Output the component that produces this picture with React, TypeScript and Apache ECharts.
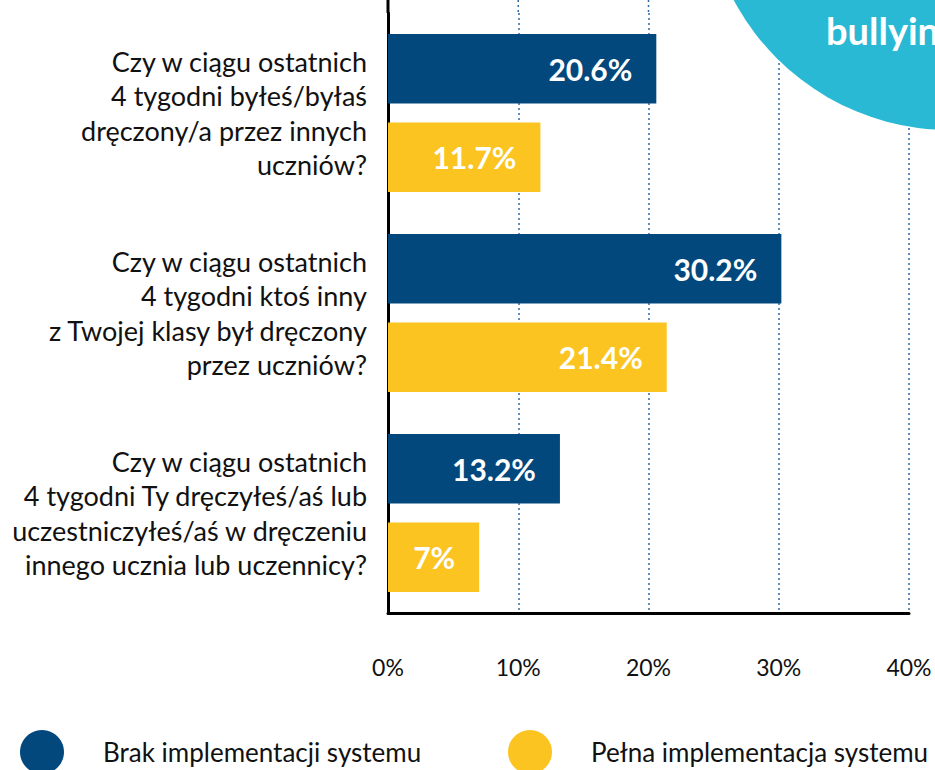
import React, { useEffect, useRef } from "react";
import * as echarts from "echarts";

const categories = [
  "Czy w ciągu ostatnich\n4 tygodni byłeś/byłaś\ndręczony/a przez innych\nuczniów?",
  "Czy w ciągu ostatnich\n4 tygodni ktoś inny\nz Twojej klasy był dręczony\nprzez uczniów?",
  "Czy w ciągu ostatnich\n4 tygodni Ty dręczyłeś/aś lub\nuczestniczyłeś/aś w dręczeniu\ninnego ucznia lub uczennicy?",
];
const seriesNames = ["Brak implementacji systemu", "Pełna implementacja systemu"];
const brakValues = [20.6, 30.2, 13.2];
const pelnaValues = [11.7, 21.4, 7];
const xTicks = [0, 10, 20, 30, 40];
const badgeText = "bullying";

const BLUE = "#02487C";
const YELLOW = "#FBC421";
const TEAL = "#29B9D4";
const GRID_BLUE = "#2F6AA6";
const FONT = "Lato, 'Noto Sans', sans-serif";

export default function App() {
  const ref = useRef<HTMLDivElement>(null);
  useEffect(() => {
    if (!ref.current) return;
    const chart = echarts.init(ref.current, undefined, { renderer: "svg" });
    const gridTop = 13;
    const gridLeft = 388;
    const legendBase = {
      top: 730,
      padding: 0,
      itemWidth: 44,
      itemHeight: 44,
      icon: "circle",
      selectedMode: false,
      textStyle: {
        fontFamily: FONT,
        fontSize: 26,
        color: "#111111",
        padding: [0, 0, 0, 34],
      },
    };
    const labelStyle = {
      show: true,
      position: "insideRight",
      distance: 24,
      formatter: (p: any) => p.value + "%",
      color: "#fff",
      fontFamily: FONT,
      fontWeight: "bold",
      fontSize: 30,
    };
    const option: any = {
      animation: false,
      backgroundColor: "#ffffff",
      textStyle: { fontFamily: FONT },
      grid: { left: gridLeft, right: 26, top: gridTop, height: 600, containLabel: false },
      legend: [
        { ...legendBase, left: 20, data: [seriesNames[0]] },
        { ...legendBase, left: 508, data: [seriesNames[1]] },
      ],
      xAxis: {
        type: "value",
        min: xTicks[0],
        max: xTicks[xTicks.length - 1],
        interval: 10,
        axisLine: { show: true, lineStyle: { color: "#000", width: 3 } },
        axisTick: { show: false },
        axisLabel: {
          formatter: "{value}%",
          fontFamily: FONT,
          fontSize: 23,
          color: "#111111",
          margin: 42,
        },
        splitLine: {
          show: true,
          lineStyle: { color: GRID_BLUE, type: [2, 3], width: 1.5 },
        },
      },
      yAxis: {
        type: "category",
        inverse: true,
        data: categories,
        axisLine: { show: true, lineStyle: { color: "#000", width: 3 } },
        axisTick: { show: false },
        axisLabel: {
          fontFamily: FONT,
          fontSize: 27,
          lineHeight: 34.5,
          color: "#111111",
          align: "right",
          margin: 21,
        },
      },
      series: [
        {
          name: seriesNames[0],
          type: "bar",
          data: brakValues,
          barWidth: 69.5,
          barGap: "27%",
          itemStyle: { color: BLUE },
          label: labelStyle,
        },
        {
          name: seriesNames[1],
          type: "bar",
          data: pelnaValues,
          barWidth: 69.5,
          barGap: "27%",
          itemStyle: { color: YELLOW },
          label: labelStyle,
        },
      ],
    };
    chart.setOption(option);

    // extend axis line and gridlines up to the top edge of the page
    const ext: any[] = xTicks.map((t) => {
      const x = chart.convertToPixel({ xAxisIndex: 0 }, t) as number;
      const isAxis = t === 0;
      return {
        type: "line",
        z: 1,
        shape: { x1: x, y1: 0, x2: x, y2: gridTop },
        style: isAxis
          ? { stroke: "#000", lineWidth: 3 }
          : { stroke: GRID_BLUE, lineWidth: 1.5, lineDash: [2, 3] },
      };
    });
    chart.setOption({
      graphic: [
        ...ext,
        {
          type: "circle",
          z: 100,
          shape: { cx: 950, cy: -115, r: 245 },
          style: { fill: TEAL },
        },
        {
          type: "text",
          z: 101,
          x: 826,
          y: 49,
          style: {
            text: badgeText,
            fill: "#fff",
            font: `bold 38px ${FONT}`,
            textVerticalAlign: "bottom",
          },
        },
      ],
    });
    return () => chart.dispose();
  }, []);
  return <div ref={ref} style={{ width: 935, height: 770, position: "absolute", left: 0, top: 0 }} />;
}
